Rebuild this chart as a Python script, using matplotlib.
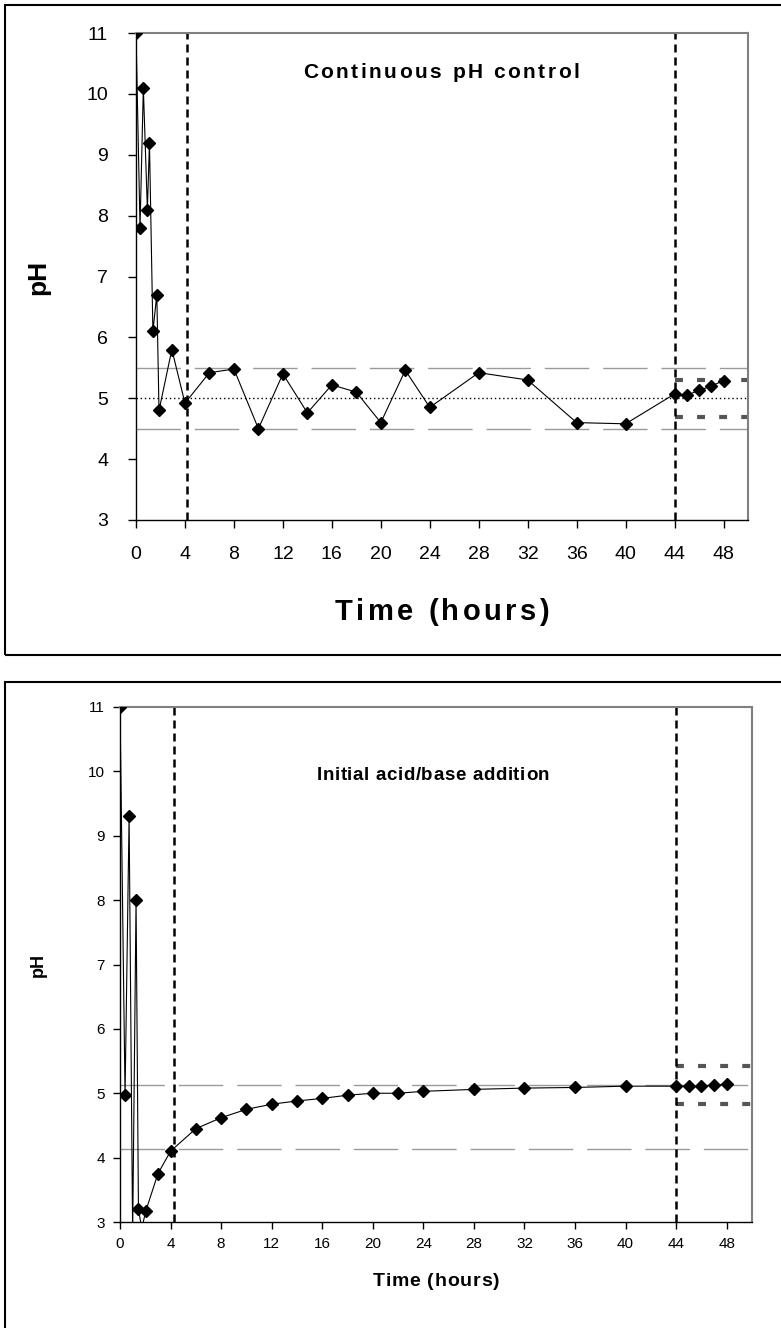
import matplotlib
matplotlib.use("Agg")
import matplotlib.pyplot as plt
from matplotlib.patches import Rectangle
from matplotlib.font_manager import FontProperties, findfont
from matplotlib.ft2font import FT2Font

plt.rcParams['font.family'] = ['Liberation Sans', 'DejaVu Sans']

# continuous pH control run
t_cont = [0, 0.33, 0.6, 0.93, 1.1, 1.38, 1.7, 1.88, 2.93, 4.0,
          6, 8, 10, 12, 14, 16, 18, 20, 22, 24, 28, 32, 36, 40,
          44, 45, 46, 47, 48]
ph_cont = [11.0, 7.8, 10.1, 8.1, 9.2, 6.1, 6.7, 4.8, 5.8, 4.92,
           5.42, 5.48, 4.5, 5.4, 4.76, 5.22, 5.1, 4.6, 5.46, 4.85, 5.42, 5.3, 4.6, 4.58,
           5.07, 5.05, 5.13, 5.2, 5.29]

# initial acid/base addition run
t_init = [0, 0.4, 0.72, 1.0, 1.27, 1.46, 1.72, 2.04, 3, 4,
          6, 8, 10, 12, 14, 16, 18, 20, 22, 24, 28, 32, 36, 40,
          44, 45, 46, 47, 48]
ph_init = [11.0, 4.97, 9.3, 2.8, 8.0, 3.2, 2.9, 3.17, 3.75, 4.1,
           4.45, 4.62, 4.75, 4.83, 4.88, 4.92, 4.97, 5.0, 5.0, 5.03, 5.06, 5.08, 5.09, 5.11,
           5.11, 5.11, 5.11, 5.13, 5.14]

x_ticks = list(range(0, 49, 4))
y_ticks = list(range(3, 12))

# reference lines
cont_band = [4.5, 5.5]
cont_target = 5.0
cont_box = [4.7, 5.3]
cont_marks = [4.2, 44]

init_band = [4.13, 5.13]
init_box = [4.83, 5.43]
init_marks = [4.3, 44]

W, H, DPI = 781, 1328, 100


def spaced_text(fig, cx, cy, s, size, track, family='Liberation Sans'):
    # bold text centred at pixel (cx, cy) from top-left, with extra letter spacing
    fp = FontProperties(family=family, weight='bold', size=size)
    font = FT2Font(findfont(fp))
    font.set_size(size, DPI)
    adv = [font.load_char(ord(c)).linearHoriAdvance / 65536 for c in s]
    total = sum(adv) + track * (len(s) - 1)
    cap = 0.716 * size * DPI / 72
    base = cy + cap / 2
    x = cx - total / 2
    for c, a in zip(s, adv):
        fig.text(x / W, 1 - base / H, c, fontproperties=fp, ha='left', va='baseline')
        x += a + track


def draw_panel(ax, t, ph, band, box, marks, tick_fs, target=None, narrow=False):
    ax.set_xlim(0, 50)
    ax.set_ylim(3, 11)
    for y in band:
        ax.axhline(y, color='#9a9a9a', lw=1.0, dashes=(32, 10), zorder=1)
    if target is not None:
        ax.axhline(target, color='black', lw=1.0, dashes=(1, 2), zorder=1)
    for y in box:
        ax.plot([44, 50], [y, y], color='#555555', lw=3.0, dashes=(1.9, 3.4), zorder=2,
                solid_capstyle='butt', dash_capstyle='butt')
    for x in marks:
        ax.axvline(x, color='black', lw=1.8, dashes=(3.2, 2.0), zorder=2)
    ax.plot(t, ph, color='black', lw=0.8, marker='D', ms=6, mfc='black',
            mec='black', zorder=3)

    for s in ['top', 'right']:
        ax.spines[s].set_color('#808080')
        ax.spines[s].set_linewidth(1.5)
    for s in ['left', 'bottom']:
        ax.spines[s].set_color('black')
        ax.spines[s].set_linewidth(1.0)
    ax.set_xticks(x_ticks)
    ax.set_yticks(y_ticks)
    fam = ['Liberation Sans Narrow', 'Liberation Sans', 'DejaVu Sans'] if narrow else \
        ['Liberation Sans', 'DejaVu Sans']
    ax.tick_params(axis='both', direction='out', length=5, width=1.0,
                   color='black', labelsize=tick_fs)
    for lab in ax.get_xticklabels() + ax.get_yticklabels():
        lab.set_family(fam)


fig = plt.figure(figsize=(W / DPI, H / DPI), dpi=DPI)

# outer frames around each chart
fig.patches.append(Rectangle((5 / W, 1 - 655 / H), 1.2, 650 / H,
                             transform=fig.transFigure, fill=False,
                             edgecolor='black', lw=1.5))
fig.patches.append(Rectangle((5 / W, -0.2), 1.2, 0.2 + 1 - 682 / H,
                             transform=fig.transFigure, fill=False,
                             edgecolor='black', lw=1.5))

ax1 = fig.add_axes([136 / W, 1 - 520 / H, 612 / W, 487 / H])
draw_panel(ax1, t_cont, ph_cont, cont_band, cont_box, cont_marks, 14, target=cont_target)
ax1.tick_params(axis='x', length=6, pad=13)
ax1.tick_params(axis='y', length=6, pad=14)
fig.text(38 / W, 1 - 277 / H, 'pH', rotation=90, ha='center', va='center',
         fontsize=19, fontweight='bold')
spaced_text(fig, 442, 610, 'Time (hours)', 21, 3.4)
spaced_text(fig, 441, 71, 'Continuous pH control', 15, 2.5)

ax2 = fig.add_axes([120 / W, 1 - 1222 / H, 632 / W, 515 / H])
draw_panel(ax2, t_init, ph_init, init_band, init_box, init_marks, 11, narrow=True)
ax2.tick_params(axis='x', length=5, pad=6)
ax2.tick_params(axis='y', length=5, pad=6)
fig.text(38 / W, 1 - 965 / H, 'pH', rotation=90, ha='center', va='center',
         fontsize=13, fontweight='bold')
spaced_text(fig, 436, 1279, 'Time (hours)', 14, 0.8)
spaced_text(fig, 433, 773, 'Initial acid/base addition', 13.5, 0.6)

fig.savefig('out.png', dpi=DPI)
